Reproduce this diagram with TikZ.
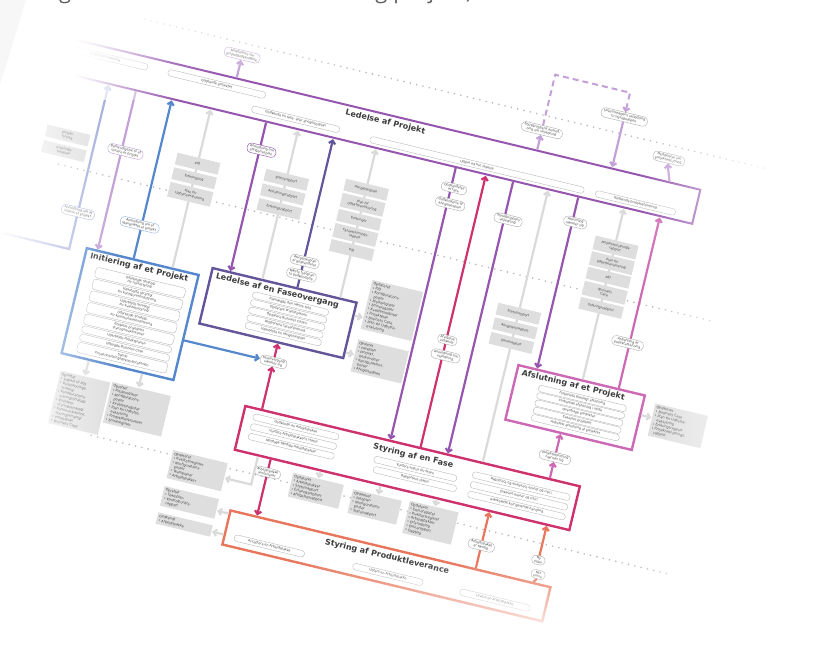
\documentclass[tikz,border=0pt]{standalone}
\usepackage{fontspec}
\setmainfont{DejaVu Sans}
\newfontfamily\capfont{Open Sans}
\usetikzlibrary{arrows.meta,fadings}
\tikzfading[name=fadeL, left color=transparent!0, right color=transparent!100]
\tikzfading[name=fadeR, left color=transparent!100, right color=transparent!0]
\tikzfading[name=fadeT, top color=transparent!0, bottom color=transparent!100]
\tikzfading[name=fadeB, top color=transparent!100, bottom color=transparent!0]
\definecolor{cBlue}{RGB}{85,135,205}
\definecolor{cDark}{RGB}{100,85,155}
\definecolor{cPurp}{RGB}{150,85,175}
\definecolor{cLav}{RGB}{195,160,215}
\definecolor{cL1}{RGB}{160,170,220}
\definecolor{cMag}{RGB}{205,50,110}
\definecolor{cPink}{RGB}{205,105,180}
\definecolor{cOrg}{RGB}{232,118,92}
\definecolor{cGray}{RGB}{218,218,218}
\definecolor{cDoc}{RGB}{222,222,222}
\definecolor{cTxt}{RGB}{60,60,60}
\definecolor{cDot}{RGB}{185,185,185}
\tikzset{
 pbox/.style={draw=#1, line width=2.4pt, fill=white, inner sep=0pt},
 ttl/.style={font=\fontsize{8}{9}\selectfont\bfseries, text=cTxt, inner sep=0pt},
 itm/.style={draw=gray!60, line width=0.35pt, rounded corners=2.8pt, fill=white, minimum height=6.5pt, inner sep=0.6pt, font=\fontsize{3.2}{3.8}\selectfont, text=cTxt, align=center},
 lbl/.style={draw=#1, line width=0.45pt, rounded corners=4pt, fill=white, inner xsep=2.5pt, inner ysep=1.3pt, font=\fontsize{3.2}{3.8}\selectfont, text=cTxt, align=center},
 lbl/.default=gray!60,
 doc/.style={fill=cDoc, inner sep=1pt, font=\fontsize{3.2}{3.8}\selectfont, text=cTxt, align=center, minimum height=12pt, minimum width=44pt},
 bigdoc/.style={fill=cDoc, inner sep=2pt, font=\fontsize{3.4}{4.3}\selectfont, text=cTxt, align=left, anchor=north west, text width=#1},
 arr/.style={-{Straight Barb[length=3.2pt,width=6.5pt]}},
 ln/.style={line width=2.2pt, draw=#1},
 dots/.style={draw=cDot, line width=1.8pt, line cap=round, dash pattern=on 0pt off 6.5pt},
}
\begin{document}
\begin{tikzpicture}[x=1pt,y=1pt]
\useasboundingbox (0,0) rectangle (830,-658);
\clip (0,0) rectangle (830,-658);
\fill[white] (0,0) rectangle (830,-658);
\begin{scope}[x=1pt,y=-1pt,rotate around={-13.5:(415,329)},transform shape]

% ---------- dotted level separators
\draw[dots] (80,91) -- (720,91);
\draw[dots] (30,252) -- (700,252);
\draw[dots] (125,508) -- (720,508);

% ---------- band: Ledelse af Projekt
\node[draw=cPurp, line width=2pt, minimum width=720, minimum height=35, inner sep=0] (lp) at (300,144.5) {};
\node[ttl] (lpT) at (338,135) {Ledelse af Projekt};
\node[itm, minimum width=88] (lp0) at (50,137) {Godkende initiering};
\node[itm, minimum width=100] (lp1) at (165,137) {Godkende projektet};
\node[itm, minimum width=90] (lp2) at (250,153) {Godkende en fase- eller afvigelsesplan};
\node[itm, minimum width=220] (lp3) at (437,155) {Udøve ad hoc ledelse};
\node[itm, minimum width=82] (lp4) at (600,155) {Godkende projektafslutning};

% ---------- top (corporate) connections
\node[lbl=cLav] (t1) at (183,103) {Meddelelse om\\projektgodkendelse};
\node[lbl] (t2) at (492,106) {Styregruppens anmod-\\ning om vejledning};
\node[lbl] (t3) at (569,74) {Virksomhedens vejledning\\til styregruppen};
\node[lbl] (t4) at (622,104) {Meddelelse om\\projektafslutning};
\coordinate (k1) at (492,49);
\coordinate (k2) at (569,49);
\draw[ln=cLav, arr] (183,126) -- (t1.south);
\draw[ln=cLav, arr] (492,126) -- (t2.south);
\draw[line width=2pt, draw=cLav, dash pattern=on 6pt off 4pt, arr] (t2.north) -- (k1) -- (k2) -- (t3.north);
\draw[ln=cLav, arr] (t3.south) -- (569,125.5);
\draw[ln=cLav, arr] (628,126) -- (t4.south);

% ---------- main process boxes
\node[pbox=cBlue, minimum width=115, minimum height=108] (ini) at (134.5,381) {};
\node[ttl, anchor=north west] (iniT) at (82,329.8) {Initiering af et Projekt};
\node[itm, minimum width=92, minimum height=10.5] (i1) at (137,348.25) {Udarbejde Strategi\\for risikostyring};
\node[itm, minimum width=92, minimum height=10.5] (i2) at (137,360.25) {Udarbejde Strategi\\for konfigurationsstyring};
\node[itm, minimum width=92, minimum height=10.5] (i3) at (137,372.25) {Udarbejde Strategi\\for kvalitetsstyring};
\node[itm, minimum width=92, minimum height=10.5] (i4) at (137,384.25) {Udarbejde Strategi\\for kommunikationsstyring};
\node[itm, minimum width=92, minimum height=10.5] (i5) at (137,396.25) {Etablere projektets\\styringsmekanismer};
\node[itm, minimum width=92, minimum height=7] (i6) at (137,406.5) {Udarbejde Projektplanen};
\node[itm, minimum width=92, minimum height=7] (i7) at (137,415) {Udbygge Business Case};
\node[itm, minimum width=92, minimum height=10.5] (i8) at (137,425.25) {Samle\\Projektinitieringsdokumentationen};

\node[pbox=cDark, minimum width=148, minimum height=57] (fo) at (278,345.5) {};
\node[ttl, anchor=north west] (foT) at (209,320) {Ledelse af en Faseovergang};
\node[itm, minimum width=78] (f1) at (288,333.5) {Planlægge den næste fase};
\node[itm, minimum width=78] (f2) at (288,341.3) {Opdatere Projektplanen};
\node[itm, minimum width=78] (f3) at (288,349.1) {Opdatere Business Casen};
\node[itm, minimum width=78] (f4) at (288,356.9) {Rapportere faseafslutning};
\node[itm, minimum width=78] (f5) at (288,364.7) {Udarbejde en afvigelsesplan};

\node[pbox=cMag, minimum width=344, minimum height=45] (sf) at (440,466) {};
\node[ttl] (sfT) at (443,453) {Styring af en Fase};
\node[itm, minimum width=88] (s1) at (322,452) {Godkende en Arbejdspakke};
\node[itm, minimum width=88] (s2) at (322,462) {Vurdere Arbejdspakkens status};
\node[itm, minimum width=88] (s3) at (322,472) {Modtage færdige Arbejdspakker};
\node[itm, minimum width=85] (s4) at (448,465) {Vurdere status for fasen};
\node[itm, minimum width=85] (s5) at (450,475) {Rapportere status};
\node[itm, minimum width=100] (s6) at (555,457) {Registrere og analysere emner og risici};
\node[itm, minimum width=100] (s7) at (555,467) {Eskalere emner og risici};
\node[itm, minimum width=100] (s8) at (555,477) {Iværksætte korrigerende handling};

\node[pbox=cPink, minimum width=130, minimum height=56] (af) at (589,368) {};
\node[ttl, anchor=north west] (afT) at (529,343) {Afslutning af et Projekt};
\node[itm, minimum width=90] (a1) at (594,357.5) {Forberede planlagt afslutning};
\node[itm, minimum width=90] (a2) at (594,365) {Forberede afslutning i utide};
\node[itm, minimum width=90] (a3) at (594,372.5) {Overdrage produkter};
\node[itm, minimum width=90] (a4) at (594,380) {Evaluere projektet};
\node[itm, minimum width=90] (a5) at (594,387.5) {Anbefale afslutning af projektet};

\node[pbox=cOrg, minimum width=329, minimum height=35] (pl) at (442.5,566) {};
\node[ttl] (plT) at (441,557) {Styring af Produktleverance};
\node[itm, minimum width=72] (p1) at (324,574) {Acceptere en Arbejdspakke};
\node[itm, minimum width=72] (p2) at (446,574) {Udføre en Arbejdspakke};
\node[itm, minimum width=72] (p3) at (556,574) {Levere en Arbejdspakke};

% ---------- verticals between band and boxes
\coordinate (c1a) at (-30,332);
\coordinate (c1b) at (60,332);
\draw[ln=cL1, arr] (c1a) -- (c1b) -- (60,163.5);
\draw[ln=cLav, arr] (88,163) -- (88,325.8);
\draw[ln=cBlue, arr] (125,325.8) -- (125,163.5);
\draw[ln=cGray, arr] (165,325.8) -- (165,163.5);
\draw[ln=cPurp, arr] (222,163) -- (222,315.8);
\draw[ln=cGray, arr] (255,315.8) -- (255,163.5);
\draw[ln=cDark, arr] (291,315.8) -- (291,163.5);
\draw[ln=cGray, arr] (335,315.8) -- (335,163.5);
\draw[ln=cPurp, arr] (417,163) -- (417,442.3);
\draw[ln=cMag, arr] (448,442.3) -- (448,163.5);
\draw[ln=cPurp, arr] (476,163) -- (476,442.3);
\draw[ln=cGray, arr] (512,442.3) -- (512,163.5);
\draw[ln=cPurp, arr] (543,163) -- (543,338.8);
\draw[ln=cGray, arr] (590,338.8) -- (590,163.5);
\draw[ln=cPink, arr] (627,338.8) -- (627,163.5);

% labels on verticals
\node[lbl=cL1] (l1) at (60,294) {Anmodning om at\\initiere et projekt};
\node[lbl=cLav] (l2) at (92,224) {Bemyndigelse til at\\initiere et projekt};
\node[lbl=cBlue!60] (l3) at (123,292) {Anmodning om at\\igangsætte et projekt};
\node[lbl=cPurp] (l5) at (224,191) {Anmodning om\\afvigelsesplan};
\node[lbl] (l7a) at (292,289) {Afvigelsesplan\\til godkendelse};
\node[lbl] (l7b) at (292,303) {Næste faseplan\\til godkendelse};
\node[lbl] (l9a) at (420,183) {Godkendelse\\af fase};
\node[lbl] (l9b) at (420,199) {Godkendelse af\\afvigelsesplan};
\node[lbl] (l10a) at (449,332) {Afvigelse\\indikeret};
\node[lbl] (l10b) at (451,348) {Anmodning om\\vejledning};
\node[lbl] (l11) at (480,201) {Styregruppens\\vejledning};
\node[lbl] (l13) at (546,188) {Afslutning\\nærmer sig};
\node[lbl] (l15) at (625,293) {Anbefaling af\\projektafslutning};

% documents on gray verticals
\node[doc] (d0a) at (32,222) {Projekt-\\forslag};
\node[doc] (d0b) at (32,238) {Initierings-\\faseplan};
\node[doc] (d4a) at (165,219) {PID};
\node[doc] (d4b) at (165,234) {Erfaringslog};
\node[doc, minimum height=15] (d4c) at (165,250.5) {Plan for\\Udbytteevaluering};
\node[doc] (d6a) at (255,214) {Statusrapport};
\node[doc] (d6b) at (255,229) {Afslutningsrapport};
\node[doc] (d6c) at (255,244) {Erfaringsrapport};
\node[doc] (d8a) at (335,205) {Afvigelsesplan};
\node[doc, minimum height=14] (d8b) at (335,220.5) {Plan for\\Udbytteevaluering};
\node[doc] (d8c) at (335,236) {Erfaringer};
\node[doc, minimum height=14] (d8d) at (335,251.5) {Faseafslutnings-\\rapport};
\node[doc] (d8e) at (335,267) {PID};
\node[doc] (d12a) at (512,290) {Statusrapport};
\node[doc] (d12b) at (512,305) {Afvigelsesrapport};
\node[doc] (d12c) at (512,320) {Emnerapport};
\node[doc, minimum height=14] (d14a) at (591,203) {Projektafslutnings-\\rapport};
\node[doc, minimum height=14] (d14b) at (591,219) {Plan for\\Udbytteevaluering};
\node[doc] (d14c) at (591,234) {PID};
\node[doc, minimum height=14] (d14d) at (591,249.5) {Business\\Case};
\node[doc] (d14e) at (591,265) {Erfaringsrapport};

% ---------- stage boundary approaching
\node[lbl] (lfo) at (285,394) {Faseovergang\\nærmer sig};
\draw[ln=cMag, arr] (285,442.3) -- (lfo.south);
\draw[ln=cMag, arr] (lfo.north) -- (285,375.2);
\draw[ln=cBlue, arr] (193.2,394) -- (lfo.west);

% project end approaching
\node[lbl] (laf) at (581,421) {Projektafslutning\\nærmer sig};
\draw[ln=cPink, arr] (581,442.3) -- (laf.south);
\draw[ln=cPink, arr] (laf.north) -- (581,397.2);

% ---------- work packages
\node[lbl] (lwp) at (305,503) {Arbejdspakke\\autoriseret};
\draw[ln=cMag] (305,489.7) -- (lwp.north);
\draw[ln=cMag, arr] (lwp.south) -- (305,547.3);
\node[lbl] (lwd) at (530,524) {Arbejdspakke\\er færdig};
\draw[ln=cOrg] (530,547.3) -- (lwd.south);
\draw[ln=cOrg, arr] (lwd.north) -- (530,489.7);
\node[lbl] (lnr) at (589,525) {Ny\\risiko};
\node[lbl] (lne) at (592,539) {Nyt\\emne};
\draw[ln=cOrg] (589,547.3) -- (lne.south);
\draw[ln=cOrg, arr] (lnr.north) -- (589,489.7);

% ---------- "Oprettet / Opdateret" documents
\node[bigdoc=47] (dI1) at (80,452) {Oprettet\\• Udkast til PID\\• Risikostyrings-\\\hspace*{3pt}strategi\\• Konfigurations-\\\hspace*{3pt}styringsstrategi\\• Kvalitets-\\\hspace*{3pt}styringsstrategi\\• Kommunikations-\\\hspace*{3pt}styringsstrategi\\• Projektplan\\• Business Case};
\node[bigdoc=56] (dI2) at (133,451) {Oprettet\\• Risikoregister\\• Konfigurations-\\\hspace*{3pt}poster\\• Kvalitetsregister\\• Plan for Udbytte-\\\hspace*{3pt}evaluering\\• Produktbeskrivelser\\• Emneregister};
\draw[ln=cGray, arr] (105,436.2) -- (105,451);
\draw[ln=cGray, arr] (160,436.2) -- (160,450);

\node[bigdoc=48] (dF1) at (362,291) {Opdateret\\• PID\\• Konfigurations-\\\hspace*{3pt}poster\\• Risikoregister\\• Emneregister\\• Kvalitetsregister\\• Projektplan\\• Business Case\\• Plan for Udbytte-\\\hspace*{3pt}evaluering};
\node[bigdoc=48] (dF2) at (362,352) {Oprettet\\• Faseplan\\• Produkt-\\\hspace*{3pt}beskrivelser\\• Konfigurations-\\\hspace*{3pt}poster\\• Afvigelsesplan};
\draw[ln=cGray, arr] (353.2,330) -- (361.5,330);
\draw[ln=cGray, arr] (353.2,368) -- (361.5,368);

\node[bigdoc=48] (dS1) at (330,497) {Opdateret\\• Arbejdspakker\\• Statusrapport\\• Erfaringsrapport\\• Afvigelsesrapport};
\node[bigdoc=46] (dS2) at (392,499) {Opdateret\\• Faseplan\\• Konfigurations-\\\hspace*{3pt}poster\\• Statusrapport};
\node[bigdoc=46] (dS3) at (450,497) {Opdateret\\• Emneregister\\• Kvalitetsregister\\• Arbejdspakker\\• Erfaringslog\\• Emnerapport\\• Dagbog};
\draw[ln=cGray, arr] (356,489.7) -- (356,496.5);
\draw[ln=cGray, arr] (418,489.7) -- (418,498.5);
\draw[ln=cGray, arr] (476,489.7) -- (476,496.5);

\node[bigdoc=52] (dP1) at (208,503) {Opdateret\\• Kvalitetsregister\\• Konfigurations-\\\hspace*{3pt}poster\\• Teamplaner\\• Arbejdspakker};
\node[bigdoc=52] (dP2) at (208,540) {Oprettet\\• Teamplan\\• Kontrolpunkts-\\\hspace*{3pt}rapport};
\node[bigdoc=52] (dP3) at (208,567) {Godkendt\\• Arbejdspakke};
\coordinate (g1) at (292,518.5);
\draw[ln=cGray, arr] (292,489.7) -- (g1) -- (265,518.5);
\draw[ln=cGray, arr] (276.8,552) -- (265,552);
\draw[ln=cGray, arr] (276.8,573.5) -- (265,573.5);

\node[bigdoc=50] (dA1) at (666,345) {Opdateret\\• Business Case\\• Plan for Udbytte-\\\hspace*{3pt}evaluering\\• Erfaringsrapport\\• Projektafslutnings-\\\hspace*{3pt}rapport};
\draw[ln=cGray, arr] (655.2,360) -- (665.5,360);
\end{scope}

% ---------- faded edges
\fill[white, path fading=fadeL] (0,0) rectangle (115,-658);
\fill[white] (0,0) rectangle (75,-100);
\fill[white, path fading=fadeL] (74,0) rectangle (175,-100);
\fill[white, path fading=fadeT] (0,0) rectangle (830,-75);
\fill[white, path fading=fadeR] (640,0) rectangle (790,-658);
\fill[white] (789,0) rectangle (830,-658);
\fill[white, path fading=fadeB] (0,-560) rectangle (830,-640);
\fill[white] (0,-639) rectangle (830,-658);
\fill[gray!6] (0,0) -- (26,0) -- (0,-85) -- cycle;

% ---------- cut-off caption
\node[anchor=base west, inner sep=0, font=\capfont\fontsize{22}{22}\selectfont, text=gray!75!black] (cap) at (42,1.2) {Figur 1 Overblik over modellen og projekt)};
\end{tikzpicture}
\end{document}
